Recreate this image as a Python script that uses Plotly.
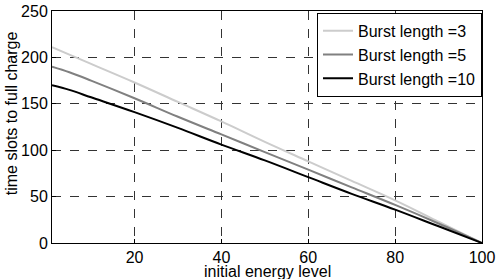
import plotly.graph_objects as go

energy = [1, 5, 10, 20, 30, 40, 50, 60, 70, 80, 90, 100]
burst3 = [211, 203, 193, 173, 152, 131, 109, 88, 67, 46, 23, 0]
burst5 = [190, 184, 175, 156, 136, 117, 98, 79, 60, 41, 21, 0]
burst10 = [170, 165, 157, 141, 124, 106, 89, 71, 53, 36, 18, 0]
series_names = ["Burst length =3", "Burst length =5", "Burst length =10"]
colors = ["#cccccc", "#808080", "#000000"]
x_title = "initial energy level"
y_title = "time slots to full charge"

fig = go.Figure()
for name, ys, c in zip(series_names, [burst3, burst5, burst10], colors):
    fig.add_trace(go.Scatter(x=energy, y=ys, mode="lines", name=name,
                             line=dict(color=c, width=2, shape="spline", smoothing=1.0)))

font = "Liberation Sans, Arial, Helvetica, sans-serif"
axis_common = dict(showline=True, linecolor="black", linewidth=1, mirror=True,
                   showgrid=True, gridcolor="#333333", griddash="dash", gridwidth=1,
                   ticks="inside", ticklen=4, tickcolor="black", zeroline=False,
                   automargin=False,
                   tickfont=dict(family=font, size=16, color="black"))

fig.update_layout(
    width=498, height=279,
    margin=dict(l=52, r=16, t=11, b=36, autoexpand=False),
    paper_bgcolor="white", plot_bgcolor="white",
    showlegend=True,
    legend=dict(x=1, y=0.992, xanchor="right", yanchor="top",
                bgcolor="white", bordercolor="black", borderwidth=1,
                font=dict(family=font, size=16, color="black"),
                itemwidth=30, tracegroupgap=0),
    xaxis=dict(range=[1, 100], tickvals=[20, 40, 60, 80, 100], ticklabelstandoff=0,
               **axis_common),
    yaxis=dict(range=[0, 250], tickvals=[0, 50, 100, 150, 200, 250],
               **axis_common),
    annotations=[
        dict(text=x_title, xref="paper", yref="paper", x=0.5, y=-0.124,
             xanchor="center", yanchor="middle", showarrow=False,
             font=dict(family=font, size=16, color="black")),
        dict(text=y_title, xref="paper", yref="paper", x=-0.095, y=0.56,
             xanchor="center", yanchor="middle", showarrow=False, textangle=-90,
             font=dict(family=font, size=16, color="black")),
    ],
)

fig.write_html("out.html", config={"displayModeBar": False},
               post_script="document.body.style.margin='0';")
